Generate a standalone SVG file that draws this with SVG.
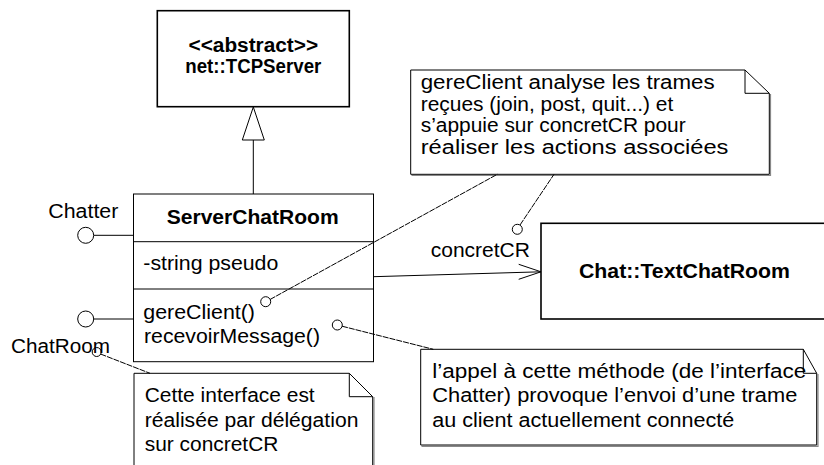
<svg xmlns="http://www.w3.org/2000/svg" width="824" height="465" viewBox="0 0 824 465">
<style>
text{font-family:"Liberation Sans",Arial,Helvetica,sans-serif;font-size:20px;fill:#000}
.b{font-weight:bold}
.box{fill:#fff;stroke:#000;stroke-width:1}
.thick{stroke-width:1.6}
.note{fill:#fff;stroke:#000;stroke-width:1}
.shadow{fill:none;stroke:#888;stroke-width:1.2}
.ln{fill:none;stroke:#000;stroke-width:1}
.dl{fill:none;stroke:#000;stroke-width:1;stroke-dasharray:6 1}
.lol{fill:#fff;stroke:#000;stroke-width:1}
</style>
<rect width="824" height="465" fill="#fff"/>
<g id="TCPServer">
  <rect class="box thick" x="157.3" y="10.7" width="192" height="96"/>
  <text class="b" x="253.3" y="52" text-anchor="middle" font-size="16" textLength="129.6" lengthAdjust="spacingAndGlyphs">&lt;&lt;abstract&gt;&gt;</text>
  <text class="b" x="253.3" y="72.5" text-anchor="middle" font-size="16" textLength="136" lengthAdjust="spacingAndGlyphs">net::TCPServer</text>
</g>
<g id="ServerChatRoom">
  <rect class="box" x="133.5" y="194" width="240" height="167.7"/>
  <line class="ln" x1="133.5" y1="241.7" x2="373.5" y2="241.7"/>
  <line class="ln" x1="133.5" y1="289" x2="373.5" y2="289"/>
  <text class="b" x="252.7" y="224" text-anchor="middle" textLength="172" lengthAdjust="spacingAndGlyphs">ServerChatRoom</text>
  <text x="143.3" y="270" textLength="135" lengthAdjust="spacingAndGlyphs">-string pseudo</text>
  <text x="143.3" y="318.5" textLength="111.7" lengthAdjust="spacingAndGlyphs">gereClient()</text>
  <text x="144" y="343" textLength="176" lengthAdjust="spacingAndGlyphs">recevoirMessage()</text>
</g>
<g id="Chatter">
  <line class="ln" x1="93.7" y1="235.3" x2="133.5" y2="235.3"/>
  <circle class="lol" cx="85.7" cy="235.3" r="8"/>
  <text x="48.3" y="218" textLength="70" lengthAdjust="spacingAndGlyphs">Chatter</text>
</g>
<g id="ChatRoom">
  <line class="ln" x1="93.7" y1="319" x2="133.5" y2="319"/>
  <circle class="lol" cx="85.7" cy="319" r="8"/>
  <text x="11" y="353" textLength="99" lengthAdjust="spacingAndGlyphs">ChatRoom</text>
</g>
<g id="TextChatRoom">
  <rect class="box thick" x="541" y="223.3" width="300" height="95.7"/>
  <text class="b" x="579" y="278.3" textLength="211" lengthAdjust="spacingAndGlyphs">Chat::TextChatRoom</text>
</g>
<g id="noteGereClient">
  <polyline class="shadow" points="770.5,94 770.5,175.5 411.5,175.5"/>
  <path class="note" d="M410.7,70 H745 L769.3,93.3 V174.3 H410.7 Z"/>
  <polyline class="ln" points="745,70 745,93.3 769.3,93.3"/>
  <text x="420.7" y="89" textLength="294" lengthAdjust="spacingAndGlyphs">gereClient analyse les trames</text>
  <text x="420.7" y="110.5" textLength="252.6" lengthAdjust="spacingAndGlyphs">reçues (join, post, quit...) et</text>
  <text x="420.7" y="132" textLength="265" lengthAdjust="spacingAndGlyphs">s’appuie sur concretCR pour</text>
  <text x="420.7" y="153.5" textLength="307.7" lengthAdjust="spacingAndGlyphs">réaliser les actions associées</text>
</g>
<g id="noteRecevoir">
  <polyline class="shadow" points="818,374 818,446.3 421.5,446.3"/>
  <path class="note" d="M420.7,349.3 H803.3 L816.7,373.3 V445 H420.7 Z"/>
  <polyline class="ln" points="803.3,349.3 803.3,373.3 816.7,373.3"/>
  <text x="432.3" y="378.3" textLength="374" lengthAdjust="spacingAndGlyphs">l’appel à cette méthode (de l’interface</text>
  <text x="432.3" y="402" textLength="365" lengthAdjust="spacingAndGlyphs">Chatter) provoque l’envoi d’une trame</text>
  <text x="432.3" y="426.5" textLength="302" lengthAdjust="spacingAndGlyphs">au client actuellement connecté</text>
</g>
<g id="noteChatRoom">
  <polyline class="shadow" points="374,397 374,470"/>
  <path class="note" d="M134,373.3 H349.3 L372.7,396.7 V470 H134 Z"/>
  <polyline class="ln" points="349.3,373.3 349.3,396.7 372.7,396.7"/>
  <text x="144.7" y="402" textLength="170" lengthAdjust="spacingAndGlyphs">Cette interface est</text>
  <text x="144.7" y="426.5" textLength="213.7" lengthAdjust="spacingAndGlyphs">réalisée par délégation</text>
  <text x="144.7" y="451" textLength="133.7" lengthAdjust="spacingAndGlyphs">sur concretCR</text>
</g>
<g id="connectors">
  <line class="ln" x1="253.3" y1="140" x2="253.3" y2="194"/>
  <polygon points="253.3,107 242.3,140 264.3,140" fill="#fff" stroke="#000" stroke-width="1"/>
  <line class="ln" x1="373.5" y1="276.7" x2="541" y2="271.8"/>
  <polyline class="ln" points="518.7,264.3 541,271.8 518.7,279.3"/>
  <text x="430.7" y="257" textLength="99.3" lengthAdjust="spacingAndGlyphs">concretCR</text>
  <line class="dl" x1="270" y1="299.5" x2="497.3" y2="174.3"/>
  <circle class="lol" cx="265.7" cy="301.7" r="5"/>
  <line class="dl" x1="520" y1="225" x2="554" y2="174.3"/>
  <circle class="lol" cx="517.3" cy="229.3" r="5"/>
  <line class="dl" x1="342" y1="326.2" x2="433.3" y2="349.3"/>
  <circle class="lol" cx="337.3" cy="325" r="5"/>
  <line class="dl" x1="100.5" y1="354" x2="150" y2="373.3"/>
  <circle cx="96.7" cy="352" r="4.5" fill="none" stroke="#000" stroke-width="1"/>
</g>
</svg>
